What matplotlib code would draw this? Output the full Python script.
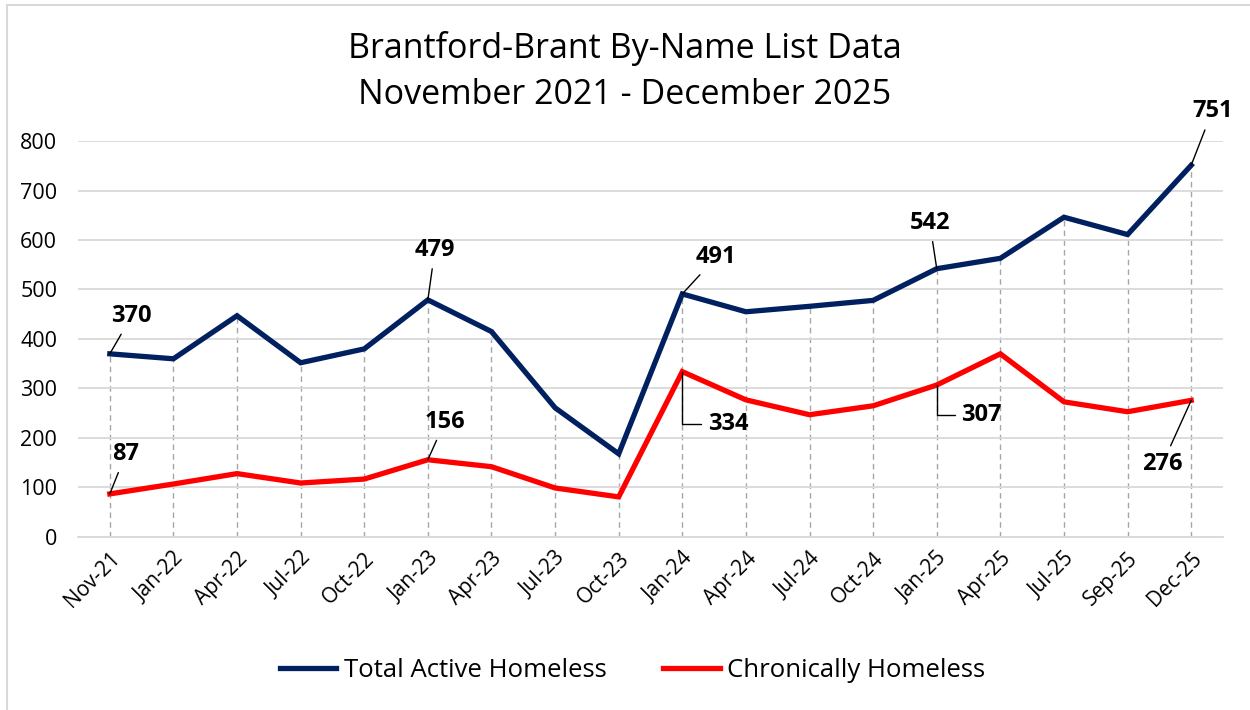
import matplotlib.pyplot as plt
from matplotlib.patches import Rectangle

plt.rcParams['font.family'] = ['Open Sans', 'DejaVu Sans']

# --- Data ---
months = ["Nov-21", "Jan-22", "Apr-22", "Jul-22", "Oct-22", "Jan-23", "Apr-23",
          "Jul-23", "Oct-23", "Jan-24", "Apr-24", "Jul-24", "Oct-24", "Jan-25",
          "Apr-25", "Jul-25", "Sep-25", "Dec-25"]
total_active = [370, 360, 447, 352, 380, 479, 415, 261, 168, 491, 455, 466,
                478, 542, 563, 646, 611, 751]
chronic = [87, 107, 128, 109, 117, 156, 142, 99, 81, 334, 277, 247, 265, 307,
           370, 273, 253, 276]

NAVY = "#002060"
RED = "#FF0000"

fig = plt.figure(figsize=(12.5, 7.1), dpi=100)
ax = fig.add_axes([0.0624, 0.2437, 0.916, 0.5577])

x = list(range(len(months)))

# drop lines from the upper series down to the axis
for i in x:
    ax.plot([i, i], [0, max(total_active[i], chronic[i])], color="#a6a6a6",
            lw=1.0, ls=(0, (4, 3)), zorder=1)

ax.plot(x, total_active, color=NAVY, lw=3.8, solid_joinstyle="miter",
        label="Total Active Homeless", zorder=3)
ax.plot(x, chronic, color=RED, lw=3.8, solid_joinstyle="miter",
        label="Chronically Homeless", zorder=3)

ax.set_xlim(-0.5, len(months) - 0.5)
ax.set_ylim(0, 800)
ax.set_yticks(range(0, 801, 100))
ax.set_xticks(x)
ax.set_xticklabels(months, rotation=45, ha="right", rotation_mode="anchor",
                   fontsize=15)
ax.tick_params(axis="y", labelsize=15.5, length=0, pad=15)
ax.tick_params(axis="x", length=0, pad=8)
ax.grid(axis="y", color="#d9d9d9", lw=1.3, zorder=0)
for side in ["top", "right", "left"]:
    ax.spines[side].set_visible(False)
ax.spines["bottom"].set_color("#d9d9d9")
ax.spines["bottom"].set_linewidth(1.3)

# data labels with leader lines: (series, index, dx, dy, elbow)
callouts = [
    (total_active, 0, 22, 38, False),
    (chronic, 0, 16, 40, False),
    (total_active, 5, 7, 50, False),
    (chronic, 5, 17, 38, False),
    (total_active, 9, 34, 37, False),
    (chronic, 9, 46, -52, True),
    (total_active, 13, -7, 46, False),
    (chronic, 13, 45, -30, True),
    (total_active, 17, 21, 54, False),
    (chronic, 17, -29, -64, False),
]
for series, i, dx, dy, elbow in callouts:
    style = "angle,angleA=0,angleB=90,rad=0" if elbow else "arc3"
    ax.annotate(str(series[i]), xy=(i, series[i]), xytext=(dx, dy),
                textcoords="offset pixels", ha="center", va="center",
                fontsize=17, fontweight="bold", zorder=5,
                arrowprops=dict(arrowstyle="-", color="black", lw=1.0,
                                connectionstyle=style, shrinkA=3, shrinkB=0))

fig.text(0.5, 0.899, "Brantford-Brant By-Name List Data\nNovember 2021 - December 2025",
         ha="center", va="center", fontsize=24.5, linespacing=1.45)

fig.legend(loc="center", bbox_to_anchor=(0.506, 0.055), ncol=2, frameon=False,
           fontsize=18.5, handlelength=2.2, columnspacing=2.2, handletextpad=0.3)

# chart area border
fig.patches.append(Rectangle((7 / 1250, -0.05), 1.2, 1 - 5 / 710 + 0.05,
                             transform=fig.transFigure, fill=False,
                             edgecolor="#d9d9d9", lw=1.5))

fig.savefig("out.png", dpi=100)
